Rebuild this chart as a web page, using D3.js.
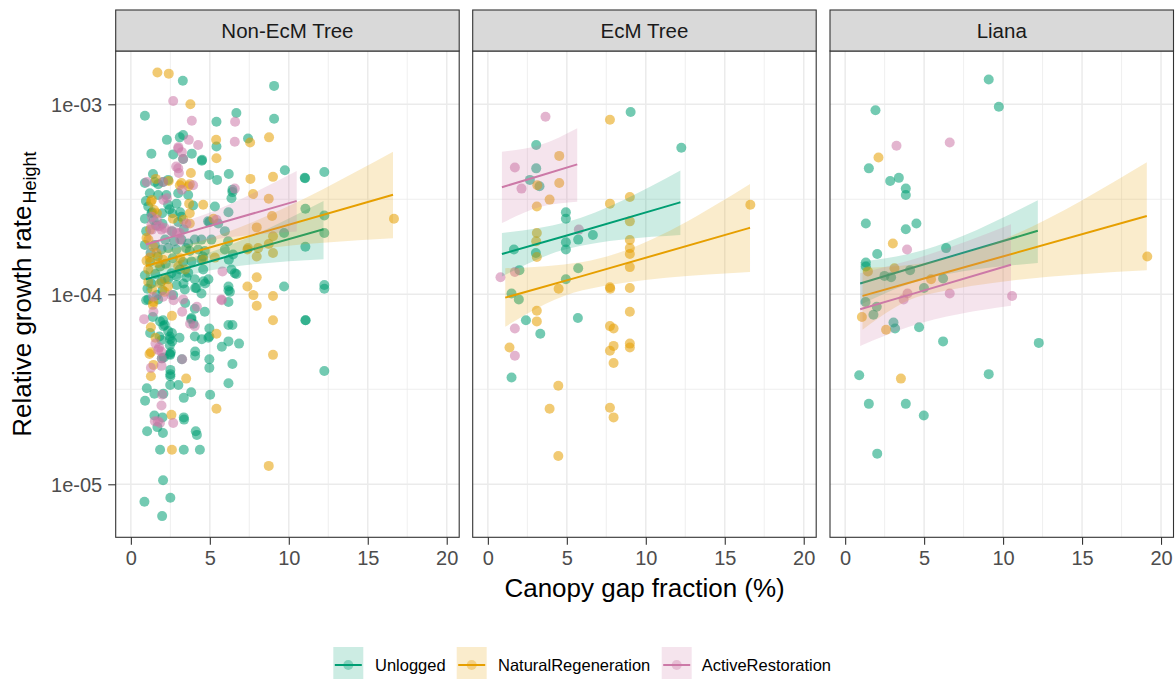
<!DOCTYPE html>
<html>
<head>
<meta charset="utf-8">
<script src="https://cdn.jsdelivr.net/npm/d3@7"></script>
<style>
  body { margin: 0; background: #fff; }
  svg { display: block; }
  text { font-family: "Liberation Sans", Arial, sans-serif; }
</style>
</head>
<body>
<svg id="chart" width="1176" height="679"></svg>
<script>
// ---- facets, groups, ticks ----
const panels = ["Non-EcM Tree", "EcM Tree", "Liana"];
const treatments = ["Unlogged", "NaturalRegeneration", "ActiveRestoration"];
const treatmentColors = ["#009E73", "#E69F00", "#CC79A7"];
const xTicks = [0, 5, 10, 15, 20];
const xMinorTicks = [2.5, 7.5, 12.5, 17.5];
const yTicks = [1e-5, 1e-4, 1e-3];
const yTickLabels = ["1e-05", "1e-04", "1e-03"];
const yMinorTicks = [Math.pow(10, -4.5), Math.pow(10, -3.5)];

// ---- observations: [canopy gap fraction (%), relative height growth rate] ----
const nonEcmUnlogged = [
  [3.29,1.33e-3],[9.07,1.25e-3],[0.89,8.7e-4],[6.68,9.0e-4],[9.07,8.4e-4],[5.42,8.1e-4],[2.28,6.5e-4],[3.1,6.7e-4],
  [3.31,6.9e-4],[5.42,6.0e-4],[7.42,6.6e-4],[1.3,5.5e-4],[2.68,5.45e-4],[3.86,5.5e-4],[3.31,5.15e-4],[4.51,5.1e-4],
  [4.96,4.25e-4],[5.46,4.0e-4],[6.2,4.3e-4],[9.75,4.5e-4],[11.01,4.1e-4],[11.03,4.08e-4],[12.25,4.4e-4],[0.89,3.85e-4],
  [2.04,3.9e-4],[4.49,5.05e-4],[6.43,3.55e-4],[6.43,3.45e-4],[11.05,2.82e-4],[12.25,2.6e-4],[6.18,2.7e-4],[4.97,2.4e-4],
  [9.7,2.1e-4],[12.25,2.1e-4],[11.05,1.78e-4],[4.56,1.58e-4],[6.2,1.52e-4],[6.68,1.28e-4],[4.91,1.2e-4],[4.6,1.17e-4],
  [9.7,1.1e-4],[12.25,1.12e-4],[12.25,1.07e-4],[6.18,1.1e-4],[6.18,1.05e-4],[6.18,9.1e-5],[11.05,7.3e-5],[11.07,7.3e-5],
  [6.18,6.9e-5],[6.43,6.9e-5],[4.97,6.6e-5],[4.97,6.0e-5],[4.49,5.8e-5],[6.18,5.65e-5],[6.85,5.5e-5],[5.76,5.3e-5],
  [4.97,4.55e-5],[4.97,4.1e-5],[6.43,4.3e-5],[12.25,3.95e-5],[6.18,3.4e-5],[5.02,2.96e-5],[4.37,1.52e-5],[4.11,1.9e-5],
  [4.18,1.82e-5],[3.35,2.25e-5],[3.82,3.05e-5],[3.35,2.85e-5],[3.01,3.33e-5],[2.49,3.33e-5],[2.5,4.0e-5],[2.5,3.8e-5],
  [2.5,3.7e-5],[3.23,4.55e-5],[4.07,5.0e-5],[4.07,4.75e-5],[3.08,5.9e-5],[2.49,5.8e-5],[2.6,6.25e-5],[3.82,7.4e-5],
  [3.96,7.0e-5],[4.68,8.1e-5],[4.47,1.01e-4],[4.07,1.08e-4],[3.44,9.0e-5],[3.33,1.14e-4],[4.7,1.14e-4],[1.85,1.52e-5],
  [3.35,1.52e-5],[1.68,2.0e-5],[2.03,1.86e-5],[1.03,1.9e-5],[2.0,2.25e-5],[1.49,2.3e-5],[0.9,2.75e-5],[1.01,3.2e-5],
  [1.49,3.0e-5],[2.06,3.0e-5],[2.04,1.05e-5],[0.86,8.1e-6],[2.5,8.5e-6],[1.98,6.8e-6],[3.37,2.19e-5],[1.96,4.6e-5],
  [2.49,4.8e-5],[1.81,6.0e-5],[1.22,6.25e-5],[1.39,7.6e-5],[1.85,7.2e-5],[2.06,6.8e-5],[0.97,9.3e-5],[1.65,9.9e-5],
  [1.94,5.75e-5],[2.47,6.0e-5],[2.61,5.65e-5],[4.05,6.0e-5],[4.91,5.9e-5],[2.04,7.3e-5],[2.15,6.9e-5],[2.36,6.4e-5],
  [2.47,5.4e-5],[4.05,8.4e-5],[3.84,7.5e-5],[2.47,4.85e-5],[2.53,4.95e-5],[2.09,4.65e-5],
  [1.52,3.9e-4],[2.36,4.0e-4],[6.37,3.2e-4],[1.2,3.4e-4],[1.73,3.33e-4],[2.25,3.33e-4],[3.0,3.4e-4],[3.63,3.33e-4],
  [2.36,2.96e-4],[2.89,3.0e-4],[0.89,2.5e-4],[1.98,2.67e-4],[2.63,2.67e-4],[3.94,2.93e-4],[5.32,2.9e-4],[4.89,2.42e-4],
  [5.53,2.36e-4],[5.95,2.15e-4],[0.89,1.82e-4],[1.52,1.82e-4],[1.94,1.72e-4],[2.36,1.75e-4],[2.89,1.72e-4],[3.2,1.94e-4],
  [3.63,1.85e-4],[4.05,1.94e-4],[4.47,1.94e-4],[5.1,1.94e-4],[4.26,1.72e-4],[4.68,1.69e-4],[3.73,1.69e-4],[3.84,1.49e-4],
  [4.47,1.52e-4],[4.58,1.35e-4],[6.16,1.9e-4],[5.95,1.72e-4],[6.47,1.62e-4],[6.37,1.35e-4],[0.89,1.26e-4],[2.57,1.29e-4],
  [2.89,1.25e-4],[3.52,1.23e-4],[4.05,1.2e-4],[1.3,1.14e-4],[1.94,1.17e-4],[2.36,1.2e-4],[1.1,9.4e-5],[1.73,9.4e-5],
  [2.68,9.9e-5],[3.42,1.06e-4],[4.15,1.08e-4],[6.27,1.03e-4],[6.58,1.29e-4],[0.97,2.15e-4],[1.22,1.48e-4],[1.6,2.3e-4],
  [2.17,1.94e-4],[2.61,2.15e-4],[3.0,2.4e-4],[3.31,1.48e-4],[3.63,1.3e-4],[1.85,1.4e-4],[1.35,2.7e-4],[3.12,2.7e-4],
  [1.1,2.9e-4],[1.45,2.45e-4],[2.0,2.35e-4],[2.45,2.8e-4],[2.75,1.9e-4],[3.35,2.2e-4],[1.25,1.65e-4],[1.7,1.58e-4],
  [2.2,1.45e-4],[2.65,1.55e-4],[3.1,1.35e-4],[1.05,1.07e-4],[1.55,1.28e-4],[2.0,1.05e-4],[2.9,1.12e-4],[3.5,1.75e-4],
  [0.95,3.1e-4],[1.4,4.3e-4],[1.73,3.8e-4],[1.3,2.67e-4],[3.2,2.56e-4]
];
const nonEcmNatural = [
  [1.68,1.47e-3],[2.4,1.45e-3],[3.77,1.0e-3],[5.4,6.5e-4],[7.55,6.3e-4],[8.75,6.7e-4],[5.42,5.2e-4],[3.8,4.35e-4],
  [7.57,4.05e-4],[9.0,4.15e-4],[1.58,4.05e-4],[2.4,3.95e-4],[3.2,3.85e-4],[3.73,3.8e-4],[3.1,3.75e-4],[7.74,3.37e-4],
  [8.73,3.18e-4],[8.94,2.58e-4],[16.66,2.5e-4],[7.97,2.25e-4],[9.0,2.02e-4],[8.73,1.84e-4],[9.0,1.65e-4],[7.38,1.72e-4],
  [7.97,1.58e-4],[7.97,1.23e-4],[7.38,1.1e-4],[7.76,9.9e-5],[9.0,9.8e-5],[7.97,8.7e-5],[9.0,7.3e-5],[5.42,6.2e-5],
  [9.0,4.8e-5],[3.5,3.6e-5],[5.42,2.5e-5],[8.73,1.25e-5],[2.6,1.52e-5],[2.57,2.32e-5],[1.27,3.7e-5],[1.43,4.25e-5],
  [1.27,4.95e-5],[1.18,4.85e-5],[1.56,5.9e-5],[1.27,6.7e-5],[1.39,8.8e-5],[1.43,9.1e-5],[2.13,1.03e-4],[2.6,7.7e-5],
  [4.58,2.96e-4],[3.73,2.67e-4],[3.73,2.36e-4],[1.27,3.07e-4],[1.47,2.78e-4],[0.99,1.98e-4],[1.62,1.65e-4],[1.2,1.56e-4],
  [0.99,1.5e-4],[1.73,1.46e-4],[2.04,1.52e-4],[3.12,1.55e-4],[3.0,1.4e-4],[3.44,1.35e-4],[5.32,1.56e-4],[4.58,1.52e-4],
  [7.42,1.75e-4],[8.06,1.75e-4],[1.1,1.16e-4],[1.35,1.06e-4],[1.85,1.14e-4],[1.1,1.35e-4],[1.33,3.14e-4],[1.65,2.67e-4],
  [1.22,2.19e-4],[1.11,1.94e-4],[1.43,1.78e-4],[3.65,3.7e-4],[3.69,3.0e-4],[2.66,2.5e-4],[3.33,2.47e-4],[5.23,2.5e-4],
  [2.15,1.2e-4],[2.36,1.1e-4]
];
const nonEcmActive = [
  [2.68,1.04e-3],[3.86,8.2e-4],[6.6,8.1e-4],[3.67,6.5e-4],[4.26,6.1e-4],[6.58,6.35e-4],[3.0,5.85e-4],[3.0,4.6e-4],
  [3.04,4.35e-4],[3.31,5.15e-4],[2.04,3.9e-4],[5.42,2.47e-4],[5.8,1.32e-4],[5.76,9.3e-5],[4.18,8.6e-5],[3.25,8.1e-5],
  [3.75,7.0e-5],[4.05,6.8e-5],[2.7,9.3e-5],[0.84,7.4e-5],[1.43,8.1e-5],[1.96,4.6e-5],[3.25,4.55e-5],[1.27,4.1e-5],
  [1.92,5.0e-5],[1.79,5.25e-5],[1.73,5.1e-5],[1.56,5.5e-5],[1.94,4.2e-5],[1.94,2.6e-5],[1.98,2.96e-5],[1.71,2.15e-5],
  [2.68,2.1e-5],[1.52,2.15e-5],[1.84,2.1e-5],[3.94,3.75e-4],[6.58,3.6e-4],[1.3,2.32e-4],[1.73,2.28e-4],[2.15,2.23e-4],
  [2.57,2.15e-4],[3.1,2.1e-4],[1.94,2.19e-4],[3.52,2.36e-4],[1.41,9.7e-5],[2.04,9.7e-5],[2.57,9.9e-5],[3.31,9.4e-5],
  [5.73,9.4e-5],[3.01,5.95e-4],[3.23,5.6e-4],[2.87,4.7e-4],[2.06,3.14e-4],[2.28,3.2e-4],[3.23,3.55e-4],[1.33,2.56e-4],
  [1.85,2.28e-4],[1.33,2.19e-4],[1.65,2.47e-4],[2.91,2.1e-4],[3.12,1.94e-4],[1.01,3.9e-4]
];
const ecmUnlogged = [
  [9.04,9.1e-4],[12.25,5.9e-4],[3.06,6.1e-4],[3.06,4.6e-4],[2.66,4.0e-4],[3.27,3.7e-4],[4.94,2.7e-4],[4.94,2.5e-4],
  [5.72,1.94e-4],[6.65,2.05e-4],[4.94,1.88e-4],[4.94,1.72e-4],[1.65,1.72e-4],[3.04,1.65e-4],[5.72,1.37e-4],[2.0,1.34e-4],
  [4.94,1.2e-4],[1.5,1.01e-4],[1.96,9.4e-5],[2.41,7.3e-5],[5.7,7.5e-5],[3.32,6.2e-5],[1.5,3.65e-5]
];
const ecmNatural = [
  [7.73,8.3e-4],[4.52,5.35e-4],[3.13,3.75e-4],[4.52,3.85e-4],[3.91,3.15e-4],[3.1,2.9e-4],[7.73,3.0e-4],[8.99,3.25e-4],
  [8.99,2.42e-4],[3.1,2.1e-4],[3.06,1.9e-4],[8.99,1.93e-4],[8.99,1.75e-4],[8.99,1.63e-4],[3.1,1.57e-4],[8.99,1.39e-4],
  [4.48,1.07e-4],[7.73,1.09e-4],[7.75,1.07e-4],[8.99,1.08e-4],[3.1,8.2e-5],[3.1,7.2e-5],[8.99,8.1e-5],[7.73,6.8e-5],
  [7.96,6.6e-5],[1.37,5.25e-5],[7.96,5.35e-5],[7.73,5.05e-5],[8.99,5.5e-5],[8.99,5.25e-5],[7.96,4.35e-5],[4.46,3.3e-5],
  [3.91,2.5e-5],[7.73,2.53e-5],[7.96,2.25e-5],[4.46,1.41e-5],[16.62,2.96e-4]
];
const ecmActive = [
  [3.65,8.6e-4],[1.71,4.65e-4],[2.13,3.6e-4],[5.76,2.19e-4],[1.71,1.31e-4],[0.8,1.23e-4],[1.71,6.6e-5],[1.71,4.75e-5]
];
const lianaUnlogged = [
  [9.09,1.35e-3],[9.73,9.7e-4],[1.92,9.3e-4],[1.5,4.6e-4],[2.85,3.95e-4],[3.4,4.1e-4],[3.84,3.6e-4],[3.84,3.33e-4],
  [1.31,2.36e-4],[4.51,2.36e-4],[3.84,2.2e-4],[2.03,1.63e-4],[6.39,1.75e-4],[1.31,1.47e-4],[1.31,1.4e-4],[2.49,1.25e-4],
  [2.91,1.23e-4],[4.11,1.34e-4],[6.2,1.21e-4],[4.99,1.08e-4],[1.29,9.1e-5],[2.0,8.6e-5],[1.79,7.8e-5],[3.06,7.1e-5],
  [3.16,6.6e-5],[4.68,6.7e-5],[6.2,5.65e-5],[12.26,5.55e-5],[0.89,3.75e-5],[9.09,3.8e-5],[1.5,2.65e-5],[3.84,2.65e-5],
  [4.98,2.3e-5],[2.03,1.45e-5]
];
const lianaNatural = [
  [2.11,5.25e-4],[3.02,1.85e-4],[1.44,1.32e-4],[3.12,1.37e-4],[5.44,1.2e-4],[19.13,1.58e-4],[1.06,7.6e-5],[2.59,6.5e-5],
  [3.53,3.6e-5]
];
const lianaActive = [
  [3.25,6.05e-4],[6.62,6.3e-4],[3.92,1.72e-4],[3.95,1.01e-4],[3.7,9.4e-5],[6.62,1.01e-4],[10.57,9.8e-5]
];

// ---- fitted trends: [gap %, lower 95% CI, fit, upper 95% CI] ----
const fitNonEcmUnlogged = [[0.95,1.04e-4,1.2e-4,1.38e-4],[4,1.28e-4,1.41e-4,1.57e-4],[12.2,1.53e-4,2.2e-4,3.1e-4]];
const fitNonEcmNatural  = [[0.95,1.23e-4,1.41e-4,1.61e-4],[4,1.5e-4,1.67e-4,1.86e-4],[16.6,1.97e-4,3.34e-4,5.63e-4]];
const fitNonEcmActive   = [[0.95,1.57e-4,1.83e-4,2.16e-4],[2.8,1.77e-4,2.03e-4,2.34e-4],[10.5,2.14e-4,3.1e-4,4.46e-4]];
const fitEcmUnlogged    = [[0.89,1.24e-4,1.63e-4,2.1e-4],[5,1.73e-4,2.04e-4,2.4e-4],[12.19,2.05e-4,3.05e-4,4.48e-4]];
const fitEcmNatural     = [[1.1,6.75e-5,9.6e-5,1.37e-4],[6,1.05e-4,1.25e-4,1.48e-4],[16.6,1.31e-4,2.24e-4,3.81e-4]];
const fitEcmActive      = [[0.89,2.37e-4,3.66e-4,5.63e-4],[3.3,2.88e-4,4.21e-4,6.1e-4],[5.66,3.07e-4,4.83e-4,7.48e-4]];
const fitLianaUnlogged  = [[0.95,8.8e-5,1.14e-4,1.48e-4],[4,1.13e-4,1.36e-4,1.63e-4],[12.2,1.46e-4,2.16e-4,3.13e-4]];
const fitLianaNatural   = [[1.1,6.5e-5,9.8e-5,1.375e-4],[5,9.9e-5,1.21e-4,1.46e-4],[19.1,1.34e-4,2.58e-4,4.96e-4]];
const fitLianaActive    = [[0.95,5.35e-5,8.34e-5,1.29e-4],[4,6.73e-5,9.9e-5,1.5e-4],[10.5,8.7e-5,1.43e-4,2.34e-4]];

const pointSets = [
  [nonEcmUnlogged, nonEcmNatural, nonEcmActive],
  [ecmUnlogged, ecmNatural, ecmActive],
  [lianaUnlogged, lianaNatural, lianaActive]
];
const fitSets = [
  [fitNonEcmUnlogged, fitNonEcmNatural, fitNonEcmActive],
  [fitEcmUnlogged, fitEcmNatural, fitEcmActive],
  [fitLianaUnlogged, fitLianaNatural, fitLianaActive]
];

// ---- layout ----
const panelLeft = [115.7, 472.7, 830];
const panelW = 343.5;
const panelTop = 51, panelBottom = 537.3;
const stripTop = 10;
const gridCol = "#EBEBEB", borderCol = "#333333";

const svg = d3.select("#chart");
svg.append("rect").attr("width", 1176).attr("height", 679).attr("fill", "#fff");

const x = d3.scaleLinear().domain([-0.96, 20.79]).range([0, panelW]);
const y = d3.scaleLog().domain([Math.pow(10, -5.279), Math.pow(10, -2.7195)]).range([panelBottom, panelTop]);

svg.append("defs").append("clipPath").attr("id", "panelClip")
  .append("rect").attr("x", 0).attr("y", panelTop).attr("width", panelW).attr("height", panelBottom - panelTop);

const area = d3.area().x(d => x(d[0])).y0(d => y(d[1])).y1(d => y(d[3])).curve(d3.curveMonotoneX);
const fitLine = d3.line().x(d => x(d[0])).y(d => y(d[2])).curve(d3.curveMonotoneX);

panels.forEach((name, i) => {
  const g = svg.append("g").attr("transform", `translate(${panelLeft[i]},0)`);

  // panel background and grid
  g.append("rect").attr("x", 0).attr("y", panelTop).attr("width", panelW).attr("height", panelBottom - panelTop).attr("fill", "#fff");
  const grid = g.append("g");
  grid.selectAll(".xmin").data(xMinorTicks).join("line")
    .attr("x1", d => x(d)).attr("x2", d => x(d)).attr("y1", panelTop).attr("y2", panelBottom)
    .attr("stroke", gridCol).attr("stroke-width", 0.8);
  grid.selectAll(".ymin").data(yMinorTicks).join("line")
    .attr("x1", 0).attr("x2", panelW).attr("y1", d => y(d)).attr("y2", d => y(d))
    .attr("stroke", gridCol).attr("stroke-width", 0.8);
  grid.selectAll(".xmaj").data(xTicks).join("line")
    .attr("x1", d => x(d)).attr("x2", d => x(d)).attr("y1", panelTop).attr("y2", panelBottom)
    .attr("stroke", gridCol).attr("stroke-width", 1.5);
  grid.selectAll(".ymaj").data(yTicks).join("line")
    .attr("x1", 0).attr("x2", panelW).attr("y1", d => y(d)).attr("y2", d => y(d))
    .attr("stroke", gridCol).attr("stroke-width", 1.5);

  const plot = g.append("g").attr("clip-path", "url(#panelClip)");

  // points
  pointSets[i].forEach((pts, k) => {
    plot.append("g").selectAll("circle").data(pts).join("circle")
      .attr("cx", d => x(d[0])).attr("cy", d => y(d[1])).attr("r", 5)
      .attr("fill", treatmentColors[k]).attr("fill-opacity", 0.55);
  });

  // confidence ribbons and fitted lines
  fitSets[i].forEach((fit, k) => {
    plot.append("path").datum(fit).attr("d", area)
      .attr("fill", treatmentColors[k]).attr("fill-opacity", 0.2);
    plot.append("path").datum(fit).attr("d", fitLine)
      .attr("fill", "none").attr("stroke", treatmentColors[k]).attr("stroke-width", 2);
  });

  // panel border
  g.append("rect").attr("x", 0).attr("y", panelTop).attr("width", panelW).attr("height", panelBottom - panelTop)
    .attr("fill", "none").attr("stroke", borderCol).attr("stroke-width", 1.1);

  // strip
  g.append("rect").attr("x", 0).attr("y", stripTop).attr("width", panelW).attr("height", panelTop - stripTop)
    .attr("fill", "#D9D9D9").attr("stroke", borderCol).attr("stroke-width", 1.1);
  g.append("text").attr("x", panelW / 2).attr("y", (stripTop + panelTop) / 2 + 7.3)
    .attr("text-anchor", "middle").attr("font-size", 20.5).attr("fill", "#1A1A1A").text(name);

  // x axis
  const xa = g.append("g").attr("transform", `translate(0,${panelBottom})`)
    .call(d3.axisBottom(x).tickValues(xTicks).tickFormat(d3.format("d")).tickSize(7.5).tickPadding(6.5));
  xa.select(".domain").remove();
  xa.selectAll(".tick line").attr("stroke", borderCol).attr("stroke-width", 1.1);
  xa.selectAll(".tick text").attr("font-size", 20).attr("fill", "#4D4D4D")
    .attr("font-family", "\"Liberation Sans\", Arial, sans-serif");

  if (i === 0) {
    const ya = g.append("g")
      .call(d3.axisLeft(y).tickValues(yTicks).tickFormat((d, j) => yTickLabels[j]).tickSize(7.5).tickPadding(6));
    ya.select(".domain").remove();
    ya.selectAll(".tick line").attr("stroke", borderCol).attr("stroke-width", 1.1);
    ya.selectAll(".tick text").attr("font-size", 20).attr("fill", "#4D4D4D").attr("dy", "0.36em")
      .attr("font-family", "\"Liberation Sans\", Arial, sans-serif");
  }
});

// axis titles
svg.append("text").attr("x", (panelLeft[0] + panelLeft[2] + panelW) / 2).attr("y", 597)
  .attr("text-anchor", "middle").attr("font-size", 26).attr("fill", "#000").text("Canopy gap fraction (%)");

const yTitle = svg.append("text").attr("transform", `translate(31,${(panelTop + panelBottom) / 2}) rotate(-90)`)
  .attr("text-anchor", "middle").attr("font-size", 26).attr("fill", "#000");
yTitle.append("tspan").text("Relative growth rate");
yTitle.append("tspan").attr("font-size", 18).attr("dy", 5).attr("dx", 2).text("Height");

// legend
const legendKeyX = [333.3, 456.7, 661.7];
const legendTextX = [375, 498, 701.7];
const keyTop = 647, keySize = 32, keyMid = 665;
treatments.forEach((t, k) => {
  const lg = svg.append("g");
  lg.append("rect").attr("x", legendKeyX[k]).attr("y", keyTop).attr("width", 30).attr("height", keySize)
    .attr("fill", treatmentColors[k]).attr("fill-opacity", 0.2);
  lg.append("line").attr("x1", legendKeyX[k] + 1.5).attr("x2", legendKeyX[k] + 28.5).attr("y1", keyMid).attr("y2", keyMid)
    .attr("stroke", treatmentColors[k]).attr("stroke-width", 2);
  lg.append("circle").attr("cx", legendKeyX[k] + 15).attr("cy", keyMid).attr("r", 5)
    .attr("fill", treatmentColors[k]).attr("fill-opacity", 0.35);
  lg.append("text").attr("x", legendTextX[k]).attr("y", keyMid + 6)
    .attr("font-size", 16.5).attr("fill", "#000").text(t);
});
</script>
</body>
</html>
